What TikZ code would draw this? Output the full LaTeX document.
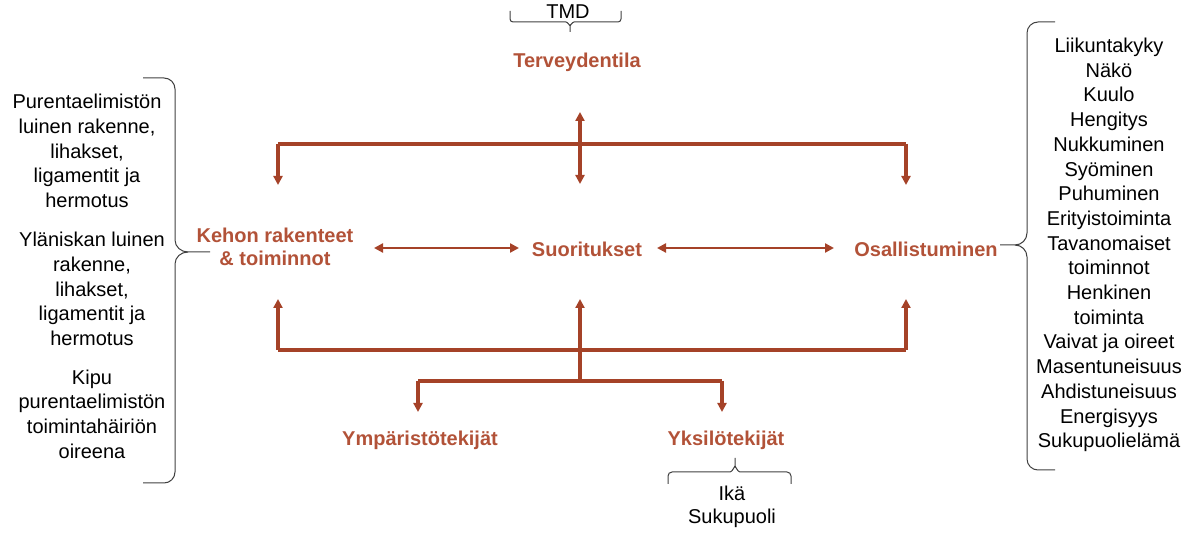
\documentclass[tikz,border=0pt]{standalone}
\usepackage{fontspec}
\setmainfont{Liberation Sans}
\usetikzlibrary{arrows.meta}
\definecolor{labc}{RGB}{178,82,56}
\definecolor{linc}{RGB}{165,66,40}
\begin{document}
\begin{tikzpicture}[x=1pt,y=-1pt,
  lab/.style={text=labc,font=\fontsize{20}{23}\selectfont\bfseries,align=center,inner sep=0},
  txt/.style={font=\fontsize{20}{24.7}\selectfont,align=center,inner sep=0},
  tipx/.tip={Triangle[length=9pt,width=9pt]},
  wire/.style={draw=linc,line width=3.4pt},
  conn/.style={wire,-tipx},
  dconn/.style={wire,tipx-tipx},
  hconn/.style={draw=linc,line width=2.8pt,tipx-tipx},
  brk/.style={draw=black!75,line width=1pt}]
\useasboundingbox (0,0) rectangle (1200,534);

% labels
\node[lab] (ter) at (577,62) {Terveydentila};
\node[lab] (keh) at (275,247) {Kehon rakenteet\\\& toiminnot};
\node[lab] (suo) at (587,249) {Suoritukset};
\node[lab] (osa) at (926,249) {Osallistuminen};
\node[lab] (ymp) at (420,440) {Ympäristötekijät};
\node[lab] (yks) at (726,440) {Yksilötekijät};

% text blocks
\node[txt] (tmd) at (568,12) {TMD};
\node[txt] (l1) at (87,151) {Purentaelimistön\\luinen rakenne,\\lihakset,\\ligamentit ja\\hermotus};
\node[txt] (l2) at (92,289) {Yläniskan luinen\\rakenne,\\lihakset,\\ligamentit ja\\hermotus};
\node[txt] (l3) at (92,414) {Kipu\\purentaelimistön\\toimintahäiriön\\oireena};
\node[txt] (r1) at (1109,245) {Liikuntakyky\\Näkö\\Kuulo\\Hengitys\\Nukkuminen\\Syöminen\\Puhuminen\\Erityistoiminta\\Tavanomaiset\\toiminnot\\Henkinen\\toiminta\\Vaivat ja oireet\\Masentuneisuus\\Ahdistuneisuus\\Energisyys\\Sukupuolielämä};
\node[txt,font=\fontsize{20}{22.5}\selectfont] (ik) at (732,507) {Ikä\\Sukupuoli};

% junction coordinates
\coordinate (tL) at (278,144);
\coordinate (tC) at (580,144);
\coordinate (tR) at (906,144);
\coordinate (tU) at (580,112);
\coordinate (dL) at (278,185);
\coordinate (dC) at (580,184);
\coordinate (dR) at (906,185);
\coordinate (bL) at (278,350);
\coordinate (bC) at (580,350);
\coordinate (bR) at (906,350);
\coordinate (uL) at (278,299);
\coordinate (uC) at (580,299);
\coordinate (uR) at (906,299);
\coordinate (sC) at (580,381);
\coordinate (sL) at (418,381);
\coordinate (sR) at (722,381);
\coordinate (eL) at (418,412);
\coordinate (eR) at (722,412);

% top connectors
\draw[wire] (tL) -- (tR);
\draw[dconn] (tU) -- (dC);
\draw[conn] (tL) -- (dL);
\draw[conn] (tR) -- (dR);

% middle connectors
\draw[hconn] (374,248) -- (519,248);
\draw[hconn] (657,248) -- (834,248);

% bottom connectors
\draw[wire] (bL) -- (bR);
\draw[conn] (bL) -- (uL);
\draw[conn] (bR) -- (uR);
\draw[conn] (sC) -- (uC);
\draw[wire] (sL) -- (sR);
\draw[conn] (sL) -- (eL);
\draw[conn] (sR) -- (eR);

% TMD bracket
\draw[brk] (510,11) -- (510,19) to[out=-90,in=180] (513,22) -- (566,22) to[out=0,in=-90] (570,25) -- (570,32);
\draw[brk] (570,25) to[out=-90,in=180] (574,22) -- (618,22) to[out=0,in=-90] (621,19) -- (621,11);

% Yksilotekijat bracket
\draw[brk] (668,484) -- (668,476) to[out=90,in=180] (672,472) -- (730,472) to[out=0,in=90] (735,467) -- (735,458);
\draw[brk] (735,467) to[out=90,in=180] (740,472) -- (787,472) to[out=0,in=90] (791,476) -- (791,484);

% left brace
\draw[brk] (143,78) -- (164,78) to[out=0,in=90] (175,89) -- (175,240) to[out=-90,in=180] (188,252) -- (210,252);
\draw[brk] (188,252) to[out=180,in=90] (175,264) -- (175,472) to[out=-90,in=0] (164,483) -- (143,483);

% right brace
\draw[brk] (1055,22) -- (1038,22) to[out=180,in=90] (1027,33) -- (1027,233) to[out=-90,in=0] (1015,245) -- (1000,245);
\draw[brk] (1015,245) to[out=0,in=90] (1027,257) -- (1027,459) to[out=-90,in=180] (1038,470) -- (1055,470);
\end{tikzpicture}
\end{document}
